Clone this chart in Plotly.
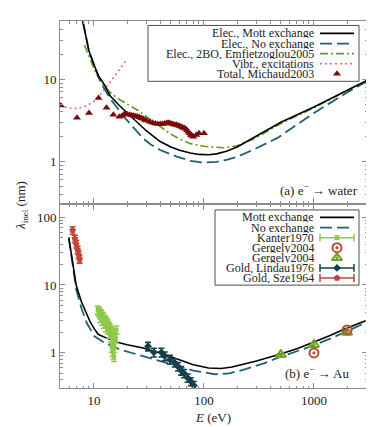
import plotly.graph_objects as go

FONT = "'Liberation Serif', 'DejaVu Serif', serif"
FRAME = "#8c8c8c"
BLACK = "#000000"
TEAL = "#1e6272"
GREEN = "#5f9a1c"
SALMON = "#ec6a5e"
MAROON = "#7a0b0b"
LIGHTGREEN = "#90c84a"
DARKTEAL = "#153f4c"
BRICK = "#c0463a"

# ---- panel (a): e- -> water ----
WATER_MOTT_E = [7.9, 9, 10, 11, 12.5, 14, 17, 20, 25, 30, 40, 50, 60, 75, 90, 110, 130, 160, 200, 300, 500, 1000, 2000, 3000]
WATER_MOTT_L = [51, 22, 15, 11, 8.5, 6.3, 4.8, 3.9, 2.9, 2.35, 1.75, 1.5, 1.37, 1.27, 1.22, 1.21, 1.24, 1.33, 1.5, 2.05, 3.0, 4.6, 7.3, 9.6]

WATER_NOEX_E = [7.9, 9, 10, 11, 12.2, 14, 16.1, 18, 21.2, 25, 28, 33, 40, 56.5, 75, 100, 130, 160, 204, 300, 470, 700, 1000, 2000, 3000]
WATER_NOEX_L = [51, 22, 15, 10.5, 8.0, 5.8, 4.6, 3.7, 2.9, 2.3, 1.91, 1.6, 1.38, 1.15, 1.02, 0.97, 0.99, 1.05, 1.15, 1.45, 1.95, 2.8, 3.9, 6.9, 9.4]

WATER_2BO_E = [8.2, 9, 10, 11, 12, 14, 17, 20, 25, 30, 40, 50, 60, 75, 100, 150, 200, 300, 500, 1000, 2000, 3000]
WATER_2BO_L = [26, 19, 13.5, 10.5, 8.8, 6.9, 5.7, 5.0, 4.2, 3.5, 2.65, 2.15, 1.88, 1.65, 1.53, 1.47, 1.55, 1.95, 2.9, 4.5, 7.3, 9.5]

VIBR_E = [4.9, 5.5, 6, 7, 8, 9, 10, 11, 12, 13, 14, 15, 16, 17, 18, 19.5]
VIBR_L = [4.8, 4.55, 4.45, 4.4, 4.6, 4.95, 5.4, 6.1, 7.0, 8.0, 9.2, 10.4, 11.7, 13.1, 14.6, 16.8]

MICHAUD_E = [5, 7, 9, 11, 13, 15, 17, 18, 19, 20, 21, 22, 23, 24, 25, 26, 27, 28, 29, 30,
             32, 34, 36, 38, 40, 42, 44, 46, 48, 50, 52, 54, 56, 58, 60, 62, 64, 66, 68, 70,
             72, 74, 76, 78, 80, 85, 90, 100]
MICHAUD_L = [4.8, 3.4, 3.9, 5.9, 4.5, 3.7, 3.5, 3.6, 3.8, 3.75, 3.7, 3.65, 3.6, 3.55, 3.5, 3.45, 3.35, 3.3, 3.2, 3.15,
             3.05, 2.95, 2.9, 2.85, 2.85, 2.85, 2.9, 2.95, 2.95, 2.9, 2.85, 2.8, 2.8, 2.75, 2.7, 2.65, 2.6, 2.55, 2.5, 2.4,
             2.3, 2.2, 2.1, 2.05, 2.0, 2.1, 2.2, 2.2]

# ---- panel (b): e- -> Au ----
AU_MOTT_E = [5.9, 6.2, 6.5, 6.9, 7.7, 8.5, 9.2, 10, 10.9, 13, 16, 20, 28, 40, 58, 80, 110, 143, 180, 234, 300, 471, 700, 946, 1400, 1900, 3000]
AU_MOTT_L = [50, 30, 19, 9.8, 5.6, 3.8, 2.9, 2.3, 1.88, 1.65, 1.45, 1.32, 1.18, 1.0, 0.8, 0.67, 0.6, 0.59, 0.62, 0.68, 0.76, 0.94, 1.15, 1.4, 1.8, 2.25, 3.0]

AU_NOEX_E = [5.9, 6.2, 6.5, 6.9, 7.7, 8.6, 10.1, 12.6, 17.2, 22, 30, 40, 58, 80, 125, 170, 234, 350, 471, 700, 946, 1500, 2040, 3100]
AU_NOEX_L = [50, 28, 17, 8.5, 4.5, 2.75, 1.75, 1.4, 1.12, 1.0, 0.85, 0.75, 0.64, 0.55, 0.485, 0.5, 0.57, 0.7, 0.85, 1.05, 1.25, 1.7, 2.1, 2.87]

KANTER_E = [10.8, 11.0, 11.2, 11.4, 11.6, 11.8, 12.0, 12.2, 12.4, 12.6, 12.8, 13.0, 13.2, 13.4, 13.6, 13.8, 14.0, 14.2,
            14.4, 14.6, 14.8, 15.0, 15.2, 15.4, 15.6, 15.8, 16.0, 11.3, 11.8, 12.3, 12.8, 13.3, 13.8, 14.3, 14.8, 15.3,
            14.5, 14.8, 15.0, 15.2]
KANTER_L = [4.3, 4.1, 4.0, 3.8, 3.7, 3.5, 3.4, 3.3, 3.1, 3.0, 2.9, 2.8, 2.7, 2.55, 2.45, 2.35, 2.25, 2.15,
            2.05, 2.0, 1.9, 1.85, 1.8, 1.75, 1.7, 1.65, 2.2, 3.3, 3.0, 2.7, 2.4, 2.2, 1.95, 1.7, 1.5, 1.35,
            1.2, 1.05, 0.95, 0.88]
KANTER_ERR = [0.6, 0.6, 0.6, 0.55, 0.55, 0.5, 0.5, 0.5, 0.45, 0.45, 0.45, 0.4, 0.4, 0.4, 0.35, 0.35, 0.35, 0.3,
              0.3, 0.3, 0.3, 0.3, 0.25, 0.25, 0.25, 0.25, 0.3, 0.5, 0.45, 0.4, 0.35, 0.3, 0.3, 0.25, 0.22, 0.2,
              0.18, 0.16, 0.14, 0.13]

GERGELY_AU_E = [1000, 2000]
GERGELY_AU_L = [1.0, 2.18]

GERGELY_TRI_E = [500, 1000, 2000]
GERGELY_TRI_L = [0.94, 1.32, 2.0]

LINDAU_E = [31, 35, 41, 44, 49, 54, 58, 62, 66, 71, 76, 81]
LINDAU_L = [1.25, 1.02, 1.02, 0.9, 0.8, 0.72, 0.63, 0.55, 0.5, 0.43, 0.38, 0.33]
LINDAU_ERR = [0.18, 0.15, 0.15, 0.13, 0.12, 0.1, 0.09, 0.08, 0.07, 0.06, 0.05, 0.05]

SZE_E = [6.4, 6.7, 6.9, 7.1, 7.25, 7.4]
SZE_L = [64, 48, 40, 33, 28, 24]
SZE_ERR = [8, 6, 5, 4, 3.5, 3]

# plot area in pixels (for legend placement)
PL, PR, PT, PB = 52, 359, 13, 384


def lx(px):
    return (px - PL) / (PR - PL)


def ly(py):
    return (PB - py) / (PB - PT)


fig = go.Figure()


def add_line(x, y, color, dash, width, xa, ya):
    fig.add_trace(go.Scatter(x=x, y=y, mode="lines", xaxis=xa, yaxis=ya,
                             line=dict(color=color, dash=dash, width=width), showlegend=False))


DASH_LONG = "12px,5px"
DASH_DOTDASH = "8px,3px,2px,3px"
DASH_DOT = "2px,3px"

# panel (a)
add_line(VIBR_E, VIBR_L, SALMON, DASH_DOT, 1.6, "x", "y")
add_line(WATER_2BO_E, WATER_2BO_L, GREEN, DASH_DOTDASH, 1.6, "x", "y")
add_line(WATER_NOEX_E, WATER_NOEX_L, TEAL, DASH_LONG, 1.8, "x", "y")
add_line(WATER_MOTT_E, WATER_MOTT_L, BLACK, "solid", 1.6, "x", "y")
fig.add_trace(go.Scatter(x=MICHAUD_E, y=MICHAUD_L, mode="markers", xaxis="x", yaxis="y",
                         marker=dict(symbol="triangle-up", size=7, color=MAROON), showlegend=False))

# panel (b)
add_line(AU_NOEX_E, AU_NOEX_L, TEAL, DASH_LONG, 1.8, "x2", "y2")
add_line(AU_MOTT_E, AU_MOTT_L, BLACK, "solid", 1.6, "x2", "y2")
fig.add_trace(go.Scatter(x=KANTER_E, y=KANTER_L, mode="markers", xaxis="x2", yaxis="y2",
                         error_y=dict(type="data", array=KANTER_ERR, color=LIGHTGREEN, thickness=1.5, width=3),
                         marker=dict(symbol="square", size=4, color=LIGHTGREEN), showlegend=False))
fig.add_trace(go.Scatter(x=SZE_E, y=SZE_L, mode="markers", xaxis="x2", yaxis="y2",
                         error_y=dict(type="data", array=SZE_ERR, color=BRICK, thickness=1.6, width=3),
                         marker=dict(symbol="pentagon", size=7, color=BRICK), showlegend=False))
fig.add_trace(go.Scatter(x=LINDAU_E, y=LINDAU_L, mode="markers", xaxis="x2", yaxis="y2",
                         error_y=dict(type="data", array=LINDAU_ERR, color=DARKTEAL, thickness=1.6, width=3),
                         marker=dict(symbol="diamond", size=6, color=DARKTEAL), showlegend=False))
fig.add_trace(go.Scatter(x=GERGELY_TRI_E, y=GERGELY_TRI_L, mode="markers", xaxis="x2", yaxis="y2",
                         marker=dict(symbol="triangle-up-open-dot", size=9, color="#6aa624",
                                     line=dict(width=2, color="#6aa624")), showlegend=False))
fig.add_trace(go.Scatter(x=GERGELY_AU_E, y=GERGELY_AU_L, mode="markers", xaxis="x2", yaxis="y2",
                         marker=dict(symbol="circle-open-dot", size=9, color=BRICK,
                                     line=dict(width=2, color=BRICK)), showlegend=False))

# ---- hand-made legends (text right-aligned, sample on the right, gnuplot style) ----
annotations = []
shapes = []


def legend_box(x0, y0, x1, y1):
    shapes.append(dict(type="rect", xref="paper", yref="paper", x0=lx(x0), x1=lx(x1), y0=ly(y1), y1=ly(y0),
                       line=dict(color="#4d4d4d", width=1), fillcolor="white", layer="below"))


def legend_entry(text, py, sx0, sx1, tx, line=None, marker=None, caps=False):
    annotations.append(dict(text=text, xref="paper", yref="paper", x=lx(tx), y=ly(py),
                            xanchor="right", yanchor="middle", showarrow=False, height=10,
                            font=dict(family=FONT, size=12, color="#222222")))
    if line is not None:
        tr = go.Scatter(x=[lx(sx0), lx(sx1)], y=[ly(py), ly(py)], mode="lines", xaxis="x3", yaxis="y3",
                        line=line, showlegend=False, hoverinfo="skip")
        if caps:
            tr.error_y = dict(type="constant", value=4 / (PB - PT), color=line["color"], thickness=line["width"], width=0)
        fig.add_trace(tr)
    if marker is not None:
        fig.add_trace(go.Scatter(x=[lx((sx0 + sx1) / 2)], y=[ly(py)], mode="markers", xaxis="x3", yaxis="y3",
                                 marker=marker, showlegend=False, hoverinfo="skip"))


legend_box(140, 17.5, 351, 74)
rows_a = [25.5, 35.8, 46.0, 56.2, 66.4]
SX0, SX1, TX = 312, 346, 308
legend_entry("Elec., Mott exchange", rows_a[0], SX0, SX1, TX, line=dict(color=BLACK, width=1.6))
legend_entry("Elec., No exchange", rows_a[1], SX0, SX1, TX, line=dict(color=TEAL, width=1.8, dash=DASH_LONG))
legend_entry("Elec., 2BO, Emfietzoglou2005", rows_a[2], SX0, SX1, TX, line=dict(color=GREEN, width=1.6, dash=DASH_DOTDASH))
legend_entry("Vibr., excitations", rows_a[3], SX0, SX1, TX, line=dict(color=SALMON, width=1.6, dash=DASH_DOT))
legend_entry("Total, Michaud2003", rows_a[4], SX0, SX1, TX,
             marker=dict(symbol="triangle-up", size=7, color=MAROON))

legend_box(207, 204, 351, 280)
rows_b = [211.5, 221.8, 232.0, 242.2, 252.4, 262.6, 272.8]
legend_entry("Mott exchange", rows_b[0], SX0, SX1, TX, line=dict(color=BLACK, width=1.6))
legend_entry("No exchange", rows_b[1], SX0, SX1, TX, line=dict(color=TEAL, width=1.8, dash=DASH_LONG))
legend_entry("Kanter1970", rows_b[2], SX0, SX1, TX, line=dict(color=LIGHTGREEN, width=1.5), caps=True,
             marker=dict(symbol="square", size=5, color=LIGHTGREEN))
legend_entry("Gergely2004", rows_b[3], SX0, SX1, TX,
             marker=dict(symbol="circle-open-dot", size=9, color=BRICK, line=dict(width=2, color=BRICK)))
legend_entry("Gergely2004", rows_b[4], SX0, SX1, TX,
             marker=dict(symbol="triangle-up-open-dot", size=9, color="#6aa624", line=dict(width=2, color="#6aa624")))
legend_entry("Gold, Lindau1976", rows_b[5], SX0, SX1, TX, line=dict(color=DARKTEAL, width=1.5), caps=True,
             marker=dict(symbol="diamond", size=6, color=DARKTEAL))
legend_entry("Gold, Sze1964", rows_b[6], SX0, SX1, TX, line=dict(color=BRICK, width=1.5), caps=True,
             marker=dict(symbol="pentagon", size=7, color=BRICK))

# panel labels and y title
annotations.append(dict(text="(a) e<sup>\u2212</sup> \u2192 water", xref="paper", yref="paper",
                        x=lx(352), y=ly(184), xanchor="right", yanchor="middle", showarrow=False,
                        font=dict(family=FONT, size=13, color="#222222")))
annotations.append(dict(text="(b) e<sup>\u2212</sup> \u2192 Au", xref="paper", yref="paper",
                        x=lx(343), y=ly(369), xanchor="right", yanchor="middle", showarrow=False,
                        font=dict(family=FONT, size=13, color="#222222")))
annotations.append(dict(text="<i>\u03bb</i><sub>inel</sub> (nm)", xref="paper", yref="paper",
                        x=lx(14), y=ly(200), xanchor="center", yanchor="middle", textangle=-90, showarrow=False,
                        font=dict(family=FONT, size=13, color="#222222")))

minor_x = [m * 10 ** k for k in range(0, 4) for m in range(2, 10)]
minor_y = [m * 10 ** k for k in range(-1, 3) for m in range(2, 10)]

common = dict(type="log", showgrid=False, zeroline=False, showline=True, linecolor=FRAME, linewidth=1,
              mirror="ticks", ticks="inside", ticklen=5, tickcolor=FRAME, tickwidth=1,
              tickfont=dict(family=FONT, size=13, color="#222222"))
minor = dict(ticks="inside", ticklen=2.5, tickcolor=FRAME, tickwidth=1, showgrid=False)

fig.update_layout(
    width=374, height=427, autosize=False,
    margin=dict(l=PL, r=374 - PR, t=PT, b=427 - PB),
    paper_bgcolor="white", plot_bgcolor="rgba(0,0,0,0)",
    showlegend=False,
    font=dict(family=FONT, size=12, color="#222222"),
    xaxis=dict(common, domain=[0, 1], anchor="y", range=[0.691, 3.482], showticklabels=False,
               tickvals=[10, 100, 1000], minor=dict(minor, tickvals=minor_x)),
    yaxis=dict(common, domain=[0.503, 1], anchor="x", range=[-0.509, 1.708],
               tickvals=[1, 10], ticktext=["1", "10"], minor=dict(minor, tickvals=minor_y)),
    xaxis2=dict(common, domain=[0, 1], anchor="y2", range=[0.691, 3.482],
                tickvals=[10, 100, 1000], ticktext=["10", "100", "1000"], minor=dict(minor, tickvals=minor_x),
                title=dict(text="<i>E</i> (eV)", font=dict(family=FONT, size=13, color="#222222"), standoff=6)),
    yaxis2=dict(common, domain=[0, 0.499], anchor="x2", range=[-0.517, 2.18],
                tickvals=[1, 10, 100], ticktext=["1", "10", "100"], minor=dict(minor, tickvals=minor_y)),
    xaxis3=dict(domain=[0, 1], anchor="y3", range=[0, 1], visible=False, fixedrange=True),
    yaxis3=dict(domain=[0, 1], anchor="x3", range=[0, 1], visible=False, fixedrange=True),
    annotations=annotations,
    shapes=shapes,
)

fig.write_html("out.html")
